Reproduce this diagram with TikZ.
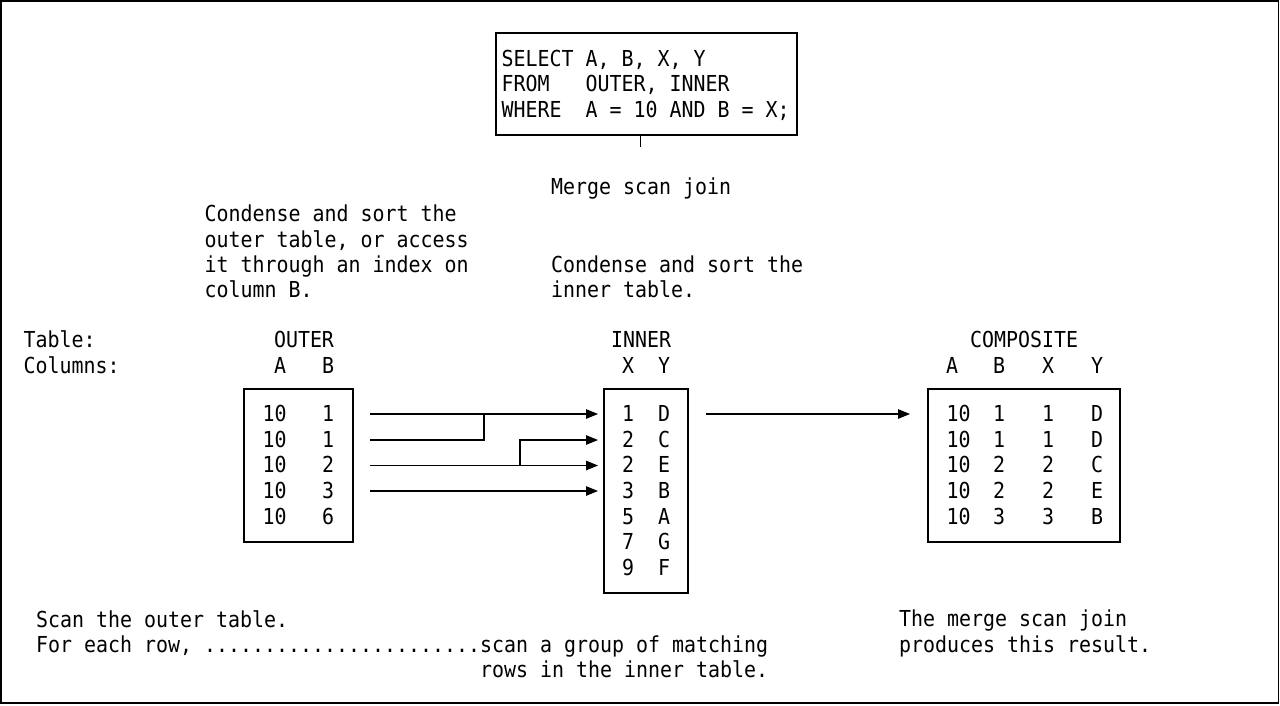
\documentclass[tikz,border=0pt]{standalone}
\usepackage{fontspec}
\newfontfamily\diagfont[FakeStretch=0.906]{DejaVu Sans Mono}
\usetikzlibrary{arrows.meta}
\begin{document}
\begin{tikzpicture}[x=1pt,y=-1pt,
  txt/.style={font=\diagfont\fontsize{22pt}{25.5pt}\selectfont, anchor=base west, inner sep=0pt},
  cell/.style={txt, anchor=base},
  box/.style={draw, line width=1.1pt, inner sep=0pt},
  ln/.style={line width=1.1pt},
  arr/.style={line width=1.1pt, -{Triangle[length=12pt,width=9.5pt]}}]
\useasboundingbox (0,0) rectangle (1280,705);
\node[box, line width=1.3pt, minimum width=1277.5pt, minimum height=702pt] (frame) at (639.75,352) {};

% SQL box
\node[box, minimum width=301pt, minimum height=102pt] (sql) at (646.5,84) {};
\node[txt] (s1) at (501.5,66) {SELECT A, B, X, Y};
\node[txt] (s2) at (501.5,91.7) {FROM~~~OUTER, INNER};
\node[txt] (s3) at (501.5,117.3) {WHERE~~A = 10 AND B = X;};
\coordinate (tk) at (640.5,147);
\draw[ln] (tk |- sql.south) -- (tk);

\node[txt] (merge) at (551,194.5) {Merge scan join};

\node[txt] (co1) at (204.5,221.7) {Condense and sort the};
\node[txt] (co2) at (204.5,247) {outer table, or access};
\node[txt] (co3) at (204.5,272.3) {it through an index on};
\node[txt] (co4) at (204.5,297.7) {column B.};

\node[txt] (ci1) at (551,272.3) {Condense and sort the};
\node[txt] (ci2) at (551,297.7) {inner table.};

\node[txt] (tbl) at (23.5,347.3) {Table:};
\node[txt] (cols) at (23.5,373) {Columns:};

% headers
\node[cell] (hout) at (304,347.3) {OUTER};
\node[cell] (hoa) at (280,373) {A};
\node[cell] (hob) at (328,373) {B};
\node[cell] (hin) at (641,347.3) {INNER};
\node[cell] (hix) at (628,373) {X};
\node[cell] (hiy) at (664,373) {Y};
\node[cell] (hcomp) at (1024,347.3) {COMPOSITE};
\node[cell] (hca) at (952,373) {A};
\node[cell] (hcb) at (999,373) {B};
\node[cell] (hcx) at (1048,373) {X};
\node[cell] (hcy) at (1097,373) {Y};

% boxes
\node[box, minimum width=109pt, minimum height=153pt] (outerbox) at (298.5,465.5) {};
\node[box, minimum width=84pt, minimum height=204pt] (innerbox) at (646,491) {};
\node[box, minimum width=192pt, minimum height=153pt] (compbox) at (1024,465.5) {};

% outer rows
\foreach \a/\b [count=\i] in {10/1,10/1,10/2,10/3,10/6}{
  \node[cell] (oa\i) at (274.7,{421.7+25.6*(\i-1)}) {\a};
  \node[cell] (ob\i) at (328,{421.7+25.6*(\i-1)}) {\b};
}
% inner rows
\foreach \x/\y [count=\i] in {1/D,2/C,2/E,3/B,5/A,7/G,9/F}{
  \node[cell] (ix\i) at (628,{421.7+25.6*(\i-1)}) {\x};
  \node[cell] (iy\i) at (664,{421.7+25.6*(\i-1)}) {\y};
}
% composite rows
\foreach \a/\b/\x/\y [count=\i] in {10/1/1/D,10/1/1/D,10/2/2/C,10/2/2/E,10/3/3/B}{
  \node[cell] (ca\i) at (958.7,{421.7+25.6*(\i-1)}) {\a};
  \node[cell] (cb\i) at (999,{421.7+25.6*(\i-1)}) {\b};
  \node[cell] (cx\i) at (1048,{421.7+25.6*(\i-1)}) {\x};
  \node[cell] (cy\i) at (1097,{421.7+25.6*(\i-1)}) {\y};
}

% arrows
\coordinate (a1) at (370,414);   \coordinate (b1) at (598,414);
\coordinate (a2) at (370,440);   \coordinate (b2) at (598,440);
\coordinate (a3) at (370,465.5); \coordinate (b3) at (598,465.5);
\coordinate (a4) at (370,491);   \coordinate (b4) at (598,491);
\coordinate (j2) at (484,414);   \coordinate (j3) at (520,465.5);
\draw[arr] (a1) -- (b1);
\draw[ln] (a2) -| (j2);
\draw[arr] (a3) -- (b3);
\draw[arr] (j3) |- (b2);
\draw[arr] (a4) -- (b4);
\coordinate (c1) at (706,414); \coordinate (d1) at (910,414);
\draw[arr] (c1) -- (d1);

% bottom texts
\node[txt] (bt1) at (36,627) {Scan the outer table.};
\node[txt] (bt2) at (36,652) {For each row, .......................scan a group of matching};
\node[txt] (bt3) at (480,677) {rows in the inner table.};
\node[txt] (rt1) at (899,626.5) {The merge scan join};
\node[txt] (rt2) at (899,652) {produces this result.};
\end{tikzpicture}
\end{document}
